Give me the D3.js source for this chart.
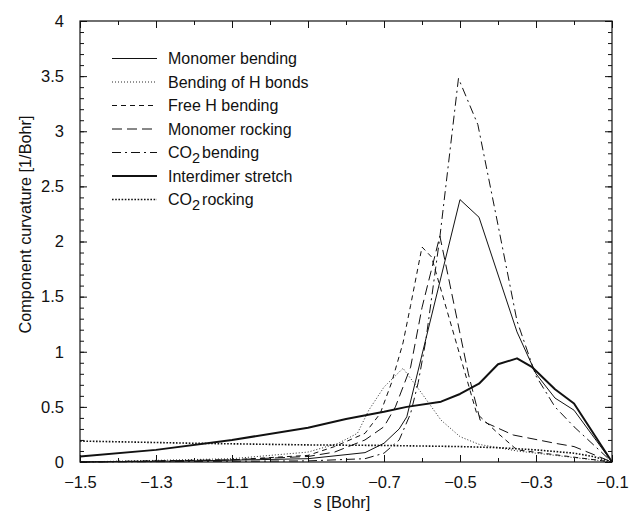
<!DOCTYPE html>
<html>
<head>
<meta charset="utf-8">
<script src="https://cdn.jsdelivr.net/npm/d3@7"></script>
<style>
  body { margin: 0; background: #fff; }
  svg { display: block; }
  text { font-family: "Liberation Sans", Arial, Helvetica, sans-serif; fill: #111; }
</style>
</head>
<body>
<svg id="chart" width="633" height="512"></svg>
<script>
// ---- data ----
const monomerBendingS = [-1.5, -1.2, -0.9, -0.75, -0.7, -0.66, -0.64, -0.5, -0.45, -0.35, -0.3, -0.25, -0.2, -0.1];
const monomerBendingV = [0.0, 0.01, 0.03, 0.085, 0.17, 0.3, 0.41, 2.38, 2.22, 1.18, 0.8, 0.58, 0.47, 0.0];

const hBondBendingS = [-1.5, -1.1, -0.9, -0.82, -0.77, -0.74, -0.7, -0.65, -0.6, -0.55, -0.5, -0.45, -0.35, -0.1];
const hBondBendingV = [0.0, 0.03, 0.09, 0.17, 0.26, 0.47, 0.68, 0.85, 0.62, 0.38, 0.23, 0.16, 0.1, 0.0];

const freeHBendingS = [-1.5, -1.1, -0.9, -0.83, -0.75, -0.71, -0.68, -0.65, -0.63, -0.6, -0.575, -0.456, -0.4, -0.35, -0.1];
const freeHBendingV = [0.0, 0.02, 0.06, 0.14, 0.26, 0.44, 0.72, 1.08, 1.42, 1.95, 1.86, 0.44, 0.26, 0.11, 0.0];

const monomerRockingS = [-1.5, -1.1, -0.9, -0.83, -0.75, -0.7, -0.67, -0.63, -0.6, -0.553, -0.478, -0.447, -0.36, -0.25, -0.2, -0.1];
const monomerRockingV = [0.0, 0.02, 0.05, 0.09, 0.2, 0.32, 0.5, 0.86, 1.4, 2.05, 0.8, 0.38, 0.245, 0.17, 0.14, 0.0];

const co2BendingS = [-1.5, -0.9, -0.75, -0.7, -0.66, -0.63, -0.61, -0.59, -0.553, -0.504, -0.453, -0.4, -0.35, -0.3, -0.25, -0.2, -0.1];
const co2BendingV = [0.0, 0.01, 0.03, 0.08, 0.2, 0.44, 0.72, 1.1, 2.04, 3.48, 3.06, 2.15, 1.28, 0.78, 0.5, 0.32, 0.0];

const interdimerS = [-1.5, -1.3, -1.1, -0.9, -0.8, -0.7, -0.64, -0.55, -0.5, -0.45, -0.4, -0.35, -0.31, -0.25, -0.2, -0.1];
const interdimerV = [0.05, 0.11, 0.2, 0.31, 0.39, 0.455, 0.5, 0.547, 0.617, 0.71, 0.886, 0.94, 0.86, 0.66, 0.53, 0.0];

const co2RockingS = [-1.5, -1.2, -0.9, -0.7, -0.5, -0.4, -0.3, -0.2, -0.15, -0.1];
const co2RockingV = [0.19, 0.17, 0.155, 0.15, 0.14, 0.13, 0.11, 0.08, 0.05, 0.0];

const xTickLabels = [-1.5, -1.3, -1.1, -0.9, -0.7, -0.5, -0.3, -0.1];
const yTickLabels = [0, 0.5, 1, 1.5, 2, 2.5, 3, 3.5, 4];

const seriesNames = ["Monomer bending", "Bending of H bonds", "Free H bending", "Monomer rocking", "CO2 bending", "Interdimer stretch", "CO2 rocking"];

// ---- styles ----
const styles = [
  { w: 1.0, dash: null },
  { w: 0.9, dash: "1,2" },
  { w: 1.0, dash: "5,4" },
  { w: 1.0, dash: "10,5" },
  { w: 1.0, dash: "9,4,2,4" },
  { w: 2.0, dash: null },
  { w: 1.6, dash: "1.6,1.6" }
];

const seriesData = [
  [monomerBendingS, monomerBendingV],
  [hBondBendingS, hBondBendingV],
  [freeHBendingS, freeHBendingV],
  [monomerRockingS, monomerRockingV],
  [co2BendingS, co2BendingV],
  [interdimerS, interdimerV],
  [co2RockingS, co2RockingV]
].map(([s, v]) => s.map((d, i) => ({ s: d, v: v[i] })));

// ---- layout ----
const L = 80, R = 612, T = 21, B = 462;
const svg = d3.select("#chart");
const x = d3.scaleLinear().domain([-1.5, -0.1]).range([L, R]);
const y = d3.scaleLinear().domain([0, 4]).range([B, T]);

const fmt = d => (d < 0 ? "\u2212" + d3.format("")(Math.abs(d)) : d3.format("")(d));

const xMinor = d3.range(-15, -0.5, 1).map(d => d / 10);
const yMinor = d3.range(0, 41, 1).map(d => d / 10);

function axisGroup(axisGen, tx, ty) {
  const g = svg.append("g").attr("transform", `translate(${tx},${ty})`).call(axisGen);
  g.select(".domain").remove();
  g.selectAll("line").attr("stroke", "#111").attr("stroke-width", 1);
  return g;
}
axisGroup(d3.axisBottom(x).tickValues(xMinor).tickSize(-4).tickFormat(""), 0, B);
axisGroup(d3.axisTop(x).tickValues(xMinor).tickSize(-4).tickFormat(""), 0, T);
axisGroup(d3.axisLeft(y).tickValues(yMinor).tickSize(-4).tickFormat(""), L, 0);
axisGroup(d3.axisRight(y).tickValues(yMinor).tickSize(-4).tickFormat(""), R, 0);

const xb = axisGroup(d3.axisBottom(x).tickValues(xTickLabels).tickSize(-7).tickPadding(14).tickFormat(fmt), 0, B);
xb.selectAll("text").attr("font-size", 16.5).attr("fill", "#111").attr("font-family", "Liberation Sans, Arial, sans-serif");
axisGroup(d3.axisTop(x).tickValues(xTickLabels).tickSize(-7).tickFormat(""), 0, T);
const yl = axisGroup(d3.axisLeft(y).tickValues(yTickLabels).tickSize(-7).tickPadding(16).tickFormat(d3.format("")), L, 0);
yl.selectAll("text").attr("font-size", 16.5).attr("fill", "#111").attr("font-family", "Liberation Sans, Arial, sans-serif");
axisGroup(d3.axisRight(y).tickValues(yTickLabels).tickSize(-7).tickFormat(""), R, 0);

svg.append("rect").attr("x", L).attr("y", T).attr("width", R - L).attr("height", B - T)
  .attr("fill", "none").attr("stroke", "#111").attr("stroke-width", 1.2);

const line = d3.line().x(d => x(d.s)).y(d => y(d.v));
seriesData.forEach((data, i) => {
  svg.append("path").datum(data).attr("d", line)
    .attr("fill", "none").attr("stroke", "#111")
    .attr("stroke-width", styles[i].w)
    .attr("stroke-dasharray", styles[i].dash)
    .attr("stroke-linejoin", "round");
});

const lgY0 = 58.5, lgDy = 23.5;
seriesNames.forEach((name, i) => {
  const yy = lgY0 + i * lgDy;
  svg.append("line").attr("x1", 112).attr("x2", 157).attr("y1", yy).attr("y2", yy)
    .attr("stroke", "#111").attr("stroke-width", styles[i].w)
    .attr("stroke-dasharray", styles[i].dash);
  const t = svg.append("text").attr("x", 168).attr("y", yy + 5.5).attr("font-size", 16);
  if (name.startsWith("CO2")) {
    t.append("tspan").text("CO");
    t.append("tspan").attr("dy", 5).attr("font-size", 14.5).text("2");
    t.append("tspan").attr("dy", -5).attr("dx", 2).text(name.slice(4));
  } else {
    t.text(name);
  }
});

svg.append("text").attr("x", 342).attr("y", 508).attr("text-anchor", "middle")
  .attr("font-size", 16.5).text("s [Bohr]");
svg.append("text").attr("transform", "translate(31,224.5) rotate(-90)").attr("text-anchor", "middle")
  .attr("font-size", 16.3).text("Component curvature [1/Bohr]");
</script>
</body>
</html>
